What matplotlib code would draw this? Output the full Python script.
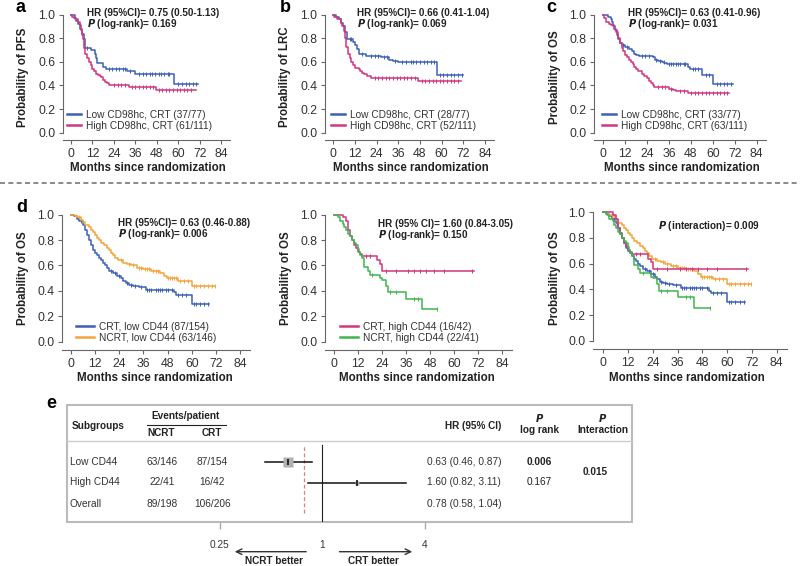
import numpy as np
import matplotlib.pyplot as plt
from matplotlib.patches import Rectangle

plt.rcParams['font.family'] = ['Liberation Sans', 'DejaVu Sans']

W, H = 800, 566
BLUE = '#3c60b8'
MAGENTA = '#d2367e'
ORANGE = '#f2a53a'
GREEN = '#40b550'

# ---- Kaplan-Meier curves: drop times, survival after drop, censor times, last follow-up
# a: PFS by CD98hc (CRT)
a_low_t = [0, 2, 3, 4, 5, 6, 7, 8, 11, 13.5, 14, 14.5, 18, 19.5, 31.5, 36, 57.5]
a_low_s = [1.0, 0.97, 0.95, 0.92, 0.88, 0.84, 0.79, 0.72, 0.70, 0.67, 0.63, 0.59, 0.56, 0.54, 0.52, 0.50, 0.41]
a_low_c = [9, 21, 23, 25, 27, 29, 30, 33, 38, 40, 42, 44, 45, 47, 49, 50, 52, 54, 55, 60, 62, 64, 66, 68, 70]
a_low_end = 71
a_high_t = [0, 0.5, 1.5, 2.5, 4, 5, 5.5, 6, 6.5, 7, 7.5, 8, 9, 10, 11, 12, 13, 14, 15, 16, 17, 18, 19, 20, 21, 32.5, 47.5]
a_high_s = [1.0, 0.98, 0.97, 0.96, 0.94, 0.91, 0.87, 0.83, 0.79, 0.76, 0.72, 0.67, 0.63, 0.60, 0.57, 0.54, 0.52,
            0.50, 0.49, 0.48, 0.47, 0.45, 0.43, 0.42, 0.40, 0.39, 0.36]
a_high_c = [24, 26, 28, 30, 34, 36, 38, 40, 42, 44, 46, 49, 51, 53, 55, 57, 59, 61, 63, 65, 67]
a_high_end = 70

# b: LRC by CD98hc (CRT)
b_low_t = [0, 1.5, 3, 4.3, 5.5, 6.5, 7.4, 11, 12, 13, 14.2, 18, 26.5, 31, 33, 36, 57.2]
b_low_s = [1.0, 0.98, 0.96, 0.93, 0.90, 0.85, 0.79, 0.77, 0.74, 0.71, 0.67, 0.65, 0.64, 0.62, 0.61, 0.60, 0.49]
b_low_c = [9, 10, 16, 21, 23, 25, 28, 30, 34, 38, 40, 43, 44, 46, 48, 50, 52, 54, 56, 59, 61, 63, 65, 67, 69, 71]
b_low_end = 72
b_high_t = [0, 0.5, 2, 4, 5, 6, 6.5, 7, 8, 9, 10, 11, 12, 14, 15, 16, 17, 18.5, 21, 47]
b_high_s = [1.0, 0.98, 0.96, 0.93, 0.90, 0.86, 0.80, 0.73, 0.67, 0.63, 0.60, 0.57, 0.55, 0.54, 0.52, 0.51,
            0.50, 0.48, 0.465, 0.44]
b_high_c = [23, 25, 27, 29, 31, 33, 35, 37, 39, 41, 43, 45, 49, 51, 53, 55, 57, 59, 61, 63, 65, 67, 69]
b_high_end = 70.5

# c: OS by CD98hc (CRT)
c_low_t = [0, 2.7, 4, 4.6, 5.5, 6.5, 7.5, 8, 9, 10, 12, 14, 15.5, 17, 18, 19.5, 27, 28.5, 30, 32, 33.5, 35,
           46.5, 47.5, 54, 60.3]
c_low_s = [1.0, 0.98, 0.96, 0.94, 0.90, 0.87, 0.83, 0.79, 0.76, 0.74, 0.73, 0.71, 0.69, 0.67, 0.66, 0.65, 0.64,
           0.62, 0.61, 0.60, 0.59, 0.58, 0.56, 0.54, 0.49, 0.41]
c_low_c = [11, 13, 21, 23, 25, 29, 31, 33, 36, 37, 38, 40, 41, 42, 44, 45, 49, 50, 52, 56, 58, 62, 64, 66, 68, 70]
c_low_end = 71
c_high_t = [0, 0.5, 1.5, 3, 4, 6, 7, 8, 9, 10, 11, 12, 13, 14, 15, 16, 17, 18, 19, 21, 22.5, 24, 25, 26, 27, 28,
            36, 38, 40, 46.5]
c_high_s = [1.0, 0.97, 0.94, 0.92, 0.91, 0.88, 0.85, 0.80, 0.76, 0.72, 0.69, 0.66, 0.64, 0.62, 0.60, 0.58, 0.56,
            0.54, 0.52, 0.50, 0.48, 0.46, 0.44, 0.42, 0.40, 0.39, 0.37, 0.36, 0.35, 0.335]
c_high_c = [30, 32, 34, 37, 42, 44, 48, 50, 52, 54, 56, 58, 60, 62, 64, 66, 68]
c_high_end = 69

# d: OS by treatment and CD44
crt_low_t = [0, 1.5, 3, 4, 6, 7, 8, 9, 10, 11, 12, 13, 14, 15, 16, 17, 18, 19, 21, 23, 25, 26, 27.5, 29, 31, 34,
             37.5, 51, 52, 60]
crt_low_s = [1.0, 0.99, 0.97, 0.95, 0.92, 0.88, 0.84, 0.80, 0.76, 0.72, 0.70, 0.68, 0.66, 0.64, 0.62, 0.60, 0.58,
             0.56, 0.54, 0.52, 0.50, 0.48, 0.46, 0.45, 0.44, 0.43, 0.41, 0.39, 0.37, 0.30]
crt_low_c = [5, 20, 22, 24, 28, 30, 32, 35, 38, 39, 40, 42, 43, 44, 45, 47, 48, 50, 53, 55, 57, 61, 62, 64, 66, 68]
crt_low_end = 68.5
ncrt_low_t = [0, 2, 3, 5, 6, 7, 9, 10, 11, 12, 13, 14, 15, 16.5, 18, 19, 20, 21, 22, 23.5, 26, 28, 30, 33, 36,
              40, 44, 46, 47.5, 53, 60]
ncrt_low_s = [1.0, 0.99, 0.98, 0.96, 0.94, 0.92, 0.90, 0.88, 0.86, 0.84, 0.82, 0.80, 0.78, 0.76, 0.74, 0.72,
              0.70, 0.68, 0.66, 0.64, 0.62, 0.61, 0.60, 0.58, 0.57, 0.56, 0.54, 0.52, 0.50, 0.48, 0.44]
ncrt_low_c = [4, 25, 29, 31, 34, 35, 37, 38, 39, 41, 42, 43, 48, 49, 50, 51, 52, 54, 56, 58, 61, 62, 64, 66, 68,
              70, 71.5]
ncrt_low_end = 71.5
crt_high_t = [0, 4.7, 6, 7, 8, 9, 10, 11, 12, 13, 14, 21.5, 23, 24]
crt_high_s = [1.0, 0.98, 0.95, 0.88, 0.83, 0.80, 0.76, 0.74, 0.71, 0.69, 0.675, 0.64, 0.61, 0.56]
crt_high_c = [16, 18, 26, 31, 37, 40, 43, 46, 50, 55, 69]
crt_high_end = 70
ncrt_high_t = [0, 2, 3, 4.5, 5, 6, 7, 8, 9, 10, 11, 12, 12.5, 13, 14, 15, 17, 18, 23, 24, 26, 27, 36, 44]
ncrt_high_s = [1.0, 0.98, 0.95, 0.93, 0.90, 0.88, 0.85, 0.83, 0.80, 0.78, 0.76, 0.73, 0.71, 0.68, 0.66, 0.59,
               0.56, 0.525, 0.50, 0.485, 0.44, 0.39, 0.34, 0.255]
ncrt_high_c = [19, 28, 31, 40, 42, 51.5]
ncrt_high_end = 51.5

# e: forest plot
sub_names = ['Low CD44', 'High CD44', 'Overall']
ncrt_events = ['63/146', '22/41', '89/198']
crt_events = ['87/154', '16/42', '106/206']
hr = [0.63, 1.60, 0.78]
hr_lo = [0.46, 0.82, 0.58]
hr_hi = [0.87, 3.11, 1.04]
p_logrank = ['0.006', '0.167', '']
p_interact = '0.015'

fig = plt.figure(figsize=(8, 5.66), dpi=100)

# overlay in pixel coordinates for text/frames
ov = fig.add_axes([0, 0, 1, 1])
ov.set_xlim(0, W)
ov.set_ylim(H, 0)
ov.axis('off')


def km_axes(xl, x0, k, y1, y0, yb, xr_t=89):
    right = x0 + k * xr_t
    top = y1 - 6
    ax = fig.add_axes([xl / W, 1 - yb / H, (right - xl) / W, (yb - top) / H])
    ax.patch.set_alpha(0)
    ax.set_xlim((xl - x0) / k, xr_t)
    sy = y0 - y1
    ax.set_ylim(-(yb - y0) / sy, 1 + (y1 - top) / sy)
    for s in ['top', 'right']:
        ax.spines[s].set_visible(False)
    ax.spines['left'].set_bounds(0, 1)
    for s in ['left', 'bottom']:
        ax.spines[s].set_color('#666666')
        ax.spines[s].set_linewidth(0.8)
    ax.set_xticks(np.arange(0, 85, 12))
    ax.set_yticks(np.arange(0, 1.01, 0.2))
    ax.set_yticklabels(['%.1f' % v for v in np.arange(0, 1.01, 0.2)])
    ax.tick_params(labelsize=8.8, colors='#666666', labelcolor='#333333', length=3, width=0.8, pad=2.5)
    return ax


def km(ax, t, s, cens, end, color, label=None):
    x = list(t) + [end]
    y = list(s) + [s[-1]]
    ax.step(x, y, where='post', color=color, lw=1.1, label=label)
    idx = np.searchsorted(t, cens, side='right') - 1
    ax.plot(cens, np.array(s)[idx], ls='none', marker='|', ms=3, mew=0.7, color=color)


def legend(ax, x, y, hl):
    leg = ax.legend(loc='upper left', bbox_to_anchor=(x / W, 1 - y / H), bbox_transform=fig.transFigure,
                    frameon=False, fontsize=7.3, handlelength=hl, handletextpad=0.45, labelspacing=0.1,
                    borderpad=0, borderaxespad=0)
    for ln in leg.get_lines():
        ln.set_linewidth(1.8)
    for t in leg.get_texts():
        t.set_color('#333333')


bold = dict(fontsize=7.1, fontweight='bold', color='#222222', va='center', ha='left')
lab = dict(fontsize=8.3, fontweight='bold', color='#222222', ha='center', va='center')
letter = dict(fontsize=13, fontweight='bold', ha='center', va='center')

# panel a
ax = km_axes(63, 71, 1.79, 14.7, 132.7, 140)
km(ax, a_low_t, a_low_s, a_low_c, a_low_end, BLUE, 'Low CD98hc, CRT (37/77)')
km(ax, a_high_t, a_high_s, a_high_c, a_high_end, MAGENTA, 'High CD98hc, CRT (61/111)')
legend(ax, 67, 110, 1.4)
ov.text(87, 12.7, 'HR (95%CI)= 0.75 (0.50-1.13)', **bold)
ov.text(87, 24, r'$\bfit{P}$ (log-rank)= 0.169', **bold)
ov.text(23, 77, 'Probability of PFS', rotation=90, **lab)
ov.text(148, 168, 'Months since randomization', **lab)
ov.text(20, 7, 'a', **letter)

# panel b
ax = km_axes(325, 333.3, 1.806, 14.7, 132.7, 140)
km(ax, b_low_t, b_low_s, b_low_c, b_low_end, BLUE, 'Low CD98hc, CRT (28/77)')
km(ax, b_high_t, b_high_s, b_high_c, b_high_end, MAGENTA, 'High CD98hc, CRT (52/111)')
legend(ax, 331, 110, 1.4)
ov.text(357, 12.7, 'HR (95%CI)= 0.66 (0.41-1.04)', **bold)
ov.text(357, 24, r'$\bfit{P}$ (log-rank)= 0.069', **bold)
ov.text(285, 77, 'Probability of LRC', rotation=90, **lab)
ov.text(411, 168, 'Months since randomization', **lab)
ov.text(285, 7, 'b', **letter)

# panel c
ax = km_axes(594, 603.3, 1.826, 14.7, 132.7, 140)
km(ax, c_low_t, c_low_s, c_low_c, c_low_end, BLUE, 'Low CD98hc, CRT (33/77)')
km(ax, c_high_t, c_high_s, c_high_c, c_high_end, MAGENTA, 'High CD98hc, CRT (63/111)')
legend(ax, 602, 110, 1.4)
ov.text(628, 12.7, 'HR (95%CI)= 0.63 (0.41-0.96)', **bold)
ov.text(628, 24, r'$\bfit{P}$ (log-rank)= 0.031', **bold)
ov.text(555, 77, 'Probability of OS', rotation=90, **lab)
ov.text(682, 168, 'Months since randomization', **lab)
ov.text(551, 7, 'c', **letter)

ov.plot([0, W], [183, 183], color='#777777', lw=1.2, ls=(0, (3, 2)))

# panel d left
ax = km_axes(62, 71, 2.012, 214.7, 341.7, 350)
km(ax, crt_low_t, crt_low_s, crt_low_c, crt_low_end, BLUE, 'CRT, low CD44 (87/154)')
km(ax, ncrt_low_t, ncrt_low_s, ncrt_low_c, ncrt_low_end, ORANGE, 'NCRT, low CD44 (63/146)')
legend(ax, 76, 321.5, 1.8)
ov.text(118, 223.3, 'HR (95%CI)= 0.63 (0.46-0.88)', **bold)
ov.text(118, 234.3, r'$\bfit{P}$ (log-rank)= 0.006', **bold)
ov.text(23, 278, 'Probability of OS', rotation=90, **lab)
ov.text(155, 378, 'Months since randomization', **lab)
ov.text(22, 207, 'd', **letter)

# panel d middle
ax = km_axes(325, 334, 2.004, 214.7, 341.7, 350)
km(ax, crt_high_t, crt_high_s, crt_high_c, crt_high_end, MAGENTA, 'CRT, high CD44 (16/42)')
km(ax, ncrt_high_t, ncrt_high_s, ncrt_high_c, ncrt_high_end, GREEN, 'NCRT, high CD44 (22/41)')
legend(ax, 340, 321.5, 1.8)
ov.text(378, 224, 'HR (95% CI)= 1.60 (0.84-3.05)', **bold)
ov.text(378, 235, r'$\bfit{P}$ (log-rank)= 0.150', **bold)
ov.text(286, 278, 'Probability of OS', rotation=90, **lab)
ov.text(417, 378, 'Months since randomization', **lab)

# panel d right
ax = km_axes(593, 603.3, 2.064, 212.3, 340.7, 349)
km(ax, crt_low_t, crt_low_s, crt_low_c, crt_low_end, BLUE)
km(ax, ncrt_low_t, ncrt_low_s, ncrt_low_c, ncrt_low_end, ORANGE)
km(ax, crt_high_t, crt_high_s, crt_high_c, crt_high_end, MAGENTA)
km(ax, ncrt_high_t, ncrt_high_s, ncrt_high_c, ncrt_high_end, GREEN)
ov.text(658, 225.7, r'$\bfit{P}$ (interaction)= 0.009', **bold)
ov.text(555, 278, 'Probability of OS', rotation=90, **lab)
ov.text(687, 378, 'Months since randomization', **lab)

# panel e: table frame
ov.add_patch(Rectangle((66.5, 404.7), 631.7 - 66.5, 521.7 - 404.7, fill=False, ec='#bbbbbb', lw=1.5))
ov.plot([66.5, 631.7], [441, 441], color='#cccccc', lw=1)
ov.text(51.5, 404, 'e', **letter)
hb = dict(fontsize=7.2, fontweight='bold', color='#222222', va='center')
tx = dict(fontsize=7.3, color='#333333', va='center')
ov.text(71.5, 426, 'Subgroups', ha='left', **hb)
ov.text(186, 416, 'Events/patient', ha='center', **hb)
ov.plot([147, 225.7], [425, 425], color='#222222', lw=0.8)
ov.text(161, 433.5, 'NCRT', ha='center', **hb)
ov.text(212, 433.5, 'CRT', ha='center', **hb)
ov.text(473, 426, 'HR (95% CI)', ha='center', **hb)
ov.text(540, 418, r'$\bfit{P}$', ha='center', **hb)
ov.text(540, 430, 'log rank', ha='center', **hb)
ov.text(603, 418, r'$\bfit{P}$', ha='center', **hb)
ov.text(603, 430, 'Interaction', ha='center', **hb)

row_y = [461.7, 482.3, 504.3]
for i in range(3):
    ov.text(70, row_y[i], sub_names[i], ha='left', **tx)
    ov.text(161.7, row_y[i], ncrt_events[i], ha='center', **tx)
    ov.text(212.3, row_y[i], crt_events[i], ha='center', **tx)
    ov.text(426.7, row_y[i], '%.2f (%.2f, %.2f)' % (hr[i], hr_lo[i], hr_hi[i]), ha='left', **tx)
    if p_logrank[i]:
        w = 'bold' if float(p_logrank[i]) < 0.05 else 'normal'
        ov.text(539.3, row_y[i], p_logrank[i], ha='center', fontsize=7.3, color='#222222', va='center',
                fontweight=w)
ov.text(595, 471.7, p_interact, ha='center', **hb)

# forest axes (log scale)
fl, fr, ft, fb = 200, 440, 441, 521.7
x1, per = 322.3, 51.2
fax = fig.add_axes([fl / W, 1 - fb / H, (fr - fl) / W, (fb - ft) / H])
fax.patch.set_alpha(0)
fax.set_xscale('log', base=2)
fax.set_xlim(2 ** ((fl - x1) / per), 2 ** ((fr - x1) / per))
rs = 21.3
fax.set_ylim((fb - row_y[0]) / rs, (ft - row_y[0]) / rs)
for s in fax.spines.values():
    s.set_visible(False)
fax.set_yticks([])
fax.set_xticks([0.25, 1, 4])
fax.set_xticklabels(['0.25', '1', '4'])
fax.minorticks_off()
fax.tick_params(axis='x', length=5, width=1, color='#aaaaaa', labelsize=7.3, labelcolor='#333333', pad=8)
fax.xaxis.get_major_ticks()[1].tick1line.set_visible(False)  # no tick mark under the line of no effect
fax.axvline(1, ymin=0, ymax=1 - 4 / (fb - ft), color='#222222', lw=0.8)
fax.axvline(hr[2], ymin=(fb - 513) / (fb - ft), ymax=1 - 4 / (fb - ft), color='#d98080', lw=0.9, ls=(0, (3, 2)))
for i in range(2):
    fax.plot([hr_lo[i], hr_hi[i]], [i, i], color='#111111', lw=1.1)
    fax.plot(hr[i], i, marker='s', ms=[7, 3][i], color='#b0b0b0', mec='none')
    fax.plot(hr[i], i, marker='|', ms=4, mew=1.2, color='#111111')

# direction arrows
ov.annotate('', xy=(232, 551.7), xytext=(309, 551.7),
            arrowprops=dict(arrowstyle='->', color='#333333', lw=1))
ov.annotate('', xy=(415, 551.7), xytext=(336.7, 551.7),
            arrowprops=dict(arrowstyle='->', color='#333333', lw=1))
ov.text(274, 561.5, 'NCRT better', ha='center', **hb)
ov.text(373, 561.5, 'CRT better', ha='center', **hb)

fig.savefig('out.png', dpi=100)
